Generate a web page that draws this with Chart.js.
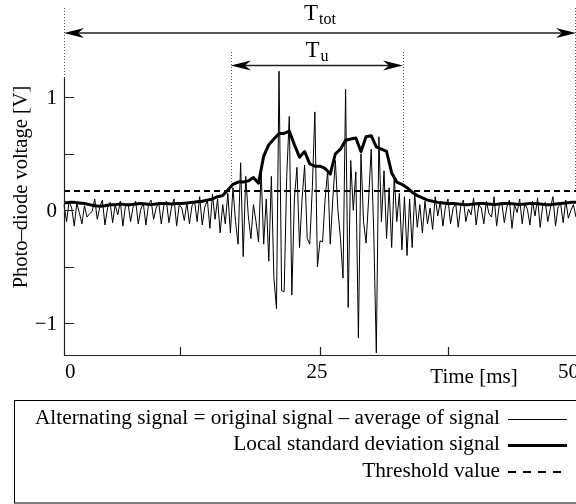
<!DOCTYPE html>
<html>
<head>
<meta charset="utf-8">
<script src="https://cdn.jsdelivr.net/npm/chart.js@4/dist/chart.umd.min.js"></script>
<style>
  html, body { margin: 0; padding: 0; background: #fff; overflow: hidden; }
</style>
</head>
<body>
<canvas id="signalChart" width="576" height="504"></canvas>
<script>
// alternating signal, one sample every 0.25 ms
const altStep = 0.25;
const altSignal = [
    0.05, -0.10, 0.08, 0.02, -0.14, 0.06, -0.02, -0.12, 0.04, -0.06,
    -0.03, -0.01, 0.10, -0.08, 0.03, 0.09, -0.13, 0.02, 0.07, -0.11,
    0.05, -0.04, 0.08, -0.14, 0.04, 0.06, -0.10, 0.03, 0.08, -0.12,
    0.01, 0.06, -0.13, 0.05, 0.09, -0.08, 0.02, 0.07, -0.12, 0.04,
    0.08, -0.11, 0.03, 0.10, -0.14, 0.05, 0.02, -0.09, 0.07, -0.12,
    0.04, 0.08, -0.10, 0.12, -0.13, 0.03, 0.09, -0.16, 0.14, -0.08,
    0.10, -0.20, 0.05, -0.12, 0.15, -0.20, 0.20, -0.10, -0.30, 0.42,
    -0.41, 0.30, -0.05, -0.25, 0.05, -0.10, -0.28, 0.35, -0.30, 0.10,
    -0.45, 0.30, -0.60, -0.87, 1.23, -0.71, -0.72, 0.30, 0.83, -0.75,
    0.10, 0.38, -0.33, 0.10, 0.40, -0.25, -0.30, 0.20, 0.87, -0.50,
    -0.27, -0.28, 0.10, 0.35, -0.30, 0.10, 0.44, 0.00, -0.25, -0.60,
    1.07, -0.86, 0.44, 0.00, 0.34, -1.13, 0.50, -0.10, -0.29, 0.10,
    0.54, -0.20, -1.26, 0.65, -0.10, 0.35, -0.25, 0.20, -0.33, 0.30,
    -0.10, 0.15, -0.35, 0.12, -0.40, 0.10, -0.33, 0.15, -0.15, 0.05,
    -0.20, 0.08, -0.12, 0.02, -0.17, 0.12, -0.05, 0.08, -0.14, 0.03,
    0.10, -0.12, 0.02, 0.06, -0.15, 0.04, 0.09, -0.10, 0.01, -0.04,
    0.11, -0.13, 0.05, 0.02, -0.12, 0.08, -0.03, -0.06, 0.12, -0.14,
    0.04, 0.07, -0.11, 0.03, 0.09, -0.16, 0.05, -0.02, 0.10, -0.12,
    0.06, 0.01, -0.13, 0.08, -0.05, 0.11, -0.15, 0.04, 0.07, -0.10,
    0.02, 0.12, -0.14, 0.03, 0.06, -0.11, 0.09, -0.07, 0.00, 0.05,
    -0.06
];

// local standard deviation, one sample every 0.5 ms
const stdStep = 0.5;
const stdSignal = [
    0.065, 0.07, 0.07, 0.065, 0.06, 0.05, 0.04, 0.035, 0.04, 0.05,
    0.05, 0.055, 0.05, 0.05, 0.055, 0.06, 0.055, 0.05, 0.055, 0.06,
    0.06, 0.055, 0.06, 0.06, 0.065, 0.07, 0.075, 0.08, 0.09, 0.10,
    0.12, 0.13, 0.18, 0.23, 0.25, 0.25, 0.26, 0.29, 0.24, 0.48,
    0.58, 0.63, 0.68, 0.68, 0.70, 0.58, 0.47, 0.52, 0.41, 0.39,
    0.39, 0.37, 0.32, 0.50, 0.54, 0.62, 0.63, 0.64, 0.52, 0.65,
    0.66, 0.56, 0.54, 0.52, 0.33, 0.25, 0.23, 0.20, 0.16, 0.13,
    0.11, 0.09, 0.08, 0.07, 0.065, 0.06, 0.06, 0.055, 0.05, 0.05,
    0.055, 0.06, 0.06, 0.055, 0.05, 0.055, 0.06, 0.06, 0.055, 0.05,
    0.055, 0.06, 0.06, 0.055, 0.05, 0.05, 0.055, 0.06, 0.065, 0.07,
    0.07
];

const thresholdValue = 0.17;

// time window markers (ms)
const totalSpan = [0, 50];
const usefulSpan = [16.3, 33.1];

const xTickMarks = [11.3, 25, 37.5];
const xTickLabels = [0, 25, 50];
const yTickMarks = [-1, -0.5, 0, 0.5, 1];
const yTickLabels = [-1, 0, 1];

const legendLabels = [
    "Alternating signal = original signal \u2013 average of signal",
    "Local standard deviation signal",
    "Threshold value",
];

const SERIF = '"Liberation Serif", "DejaVu Serif", serif';

function toPoints(values, step) {
    return values.map((v, i) => ({ x: i * step, y: v }));
}

function arrowHead(ctx, x, y, dir) {
    // dir = -1 points left, +1 points right
    const len = 20, half = 5;
    ctx.beginPath();
    ctx.moveTo(x, y);
    ctx.lineTo(x - dir * len, y - half);
    ctx.lineTo(x - dir * len * 0.7, y);
    ctx.lineTo(x - dir * len, y + half);
    ctx.closePath();
    ctx.fill();
}

function spanArrow(ctx, x1, x2, y) {
    ctx.beginPath();
    ctx.moveTo(x1 + 6, y);
    ctx.lineTo(x2 - 6, y);
    ctx.stroke();
    arrowHead(ctx, x1, y, -1);
    arrowHead(ctx, x2, y, 1);
}

function subText(ctx, main, sub, cx, baseline) {
    ctx.font = "23px " + SERIF;
    const wMain = ctx.measureText(main).width;
    ctx.font = "16px " + SERIF;
    const wSub = ctx.measureText(sub).width;
    const left = cx - (wMain + 1 + wSub) / 2;
    ctx.textAlign = "left";
    ctx.textBaseline = "alphabetic";
    ctx.font = "23px " + SERIF;
    ctx.fillText(main, left, baseline);
    ctx.font = "16px " + SERIF;
    ctx.fillText(sub, left + wMain + 1, baseline + 4);
}

const figureDecor = {
    id: "figureDecor",
    beforeDatasetsDraw(chart) {
        const { ctx, scales: { x, y } } = chart;
        ctx.save();
        ctx.strokeStyle = "#555";
        ctx.lineWidth = 1;
        ctx.setLineDash([1, 2]);
        const yThr = y.getPixelForValue(thresholdValue);
        totalSpan.forEach((t) => {
            const px = Math.min(Math.round(x.getPixelForValue(t)), 575) + 0.5;
            ctx.beginPath();
            ctx.moveTo(px, 8);
            ctx.lineTo(px, yThr);
            ctx.stroke();
        });
        usefulSpan.forEach((t) => {
            const px = Math.round(x.getPixelForValue(t)) + 0.5;
            ctx.beginPath();
            ctx.moveTo(px, 52);
            ctx.lineTo(px, y.getPixelForValue(0.24));
            ctx.stroke();
        });
        ctx.restore();
    },
    afterDatasetsDraw(chart) {
        const { ctx, chartArea: a, scales: { x, y } } = chart;
        ctx.save();
        ctx.strokeStyle = "#222";
        ctx.fillStyle = "#000";
        ctx.lineWidth = 1.2;

        // axes
        ctx.beginPath();
        ctx.moveTo(a.left + 0.5, a.top);
        ctx.lineTo(a.left + 0.5, a.bottom + 0.5);
        ctx.lineTo(a.right, a.bottom + 0.5);
        ctx.stroke();

        // inward tick marks
        ctx.beginPath();
        yTickMarks.forEach((v) => {
            const py = Math.round(y.getPixelForValue(v)) + 0.5;
            ctx.moveTo(a.left, py);
            ctx.lineTo(a.left + 10, py);
        });
        xTickMarks.forEach((v) => {
            const px = Math.round(x.getPixelForValue(v)) + 0.5;
            ctx.moveTo(px, a.bottom);
            ctx.lineTo(px, a.bottom - 8);
        });
        ctx.stroke();

        // tick labels
        ctx.font = "21px " + SERIF;
        ctx.textBaseline = "middle";
        ctx.textAlign = "right";
        yTickLabels.forEach((v) => {
            const txt = v < 0 ? "\u2212" + Math.abs(v) : String(v);
            ctx.fillText(txt, a.left - 7, y.getPixelForValue(v) + 1);
        });
        xTickLabels.forEach((v, i) => {
            const px = x.getPixelForValue(v);
            if (i === 0) {
                ctx.textAlign = "left";
                ctx.fillText(String(v), px + 1, a.bottom + 17);
            } else if (i === xTickLabels.length - 1) {
                ctx.textAlign = "left";
                ctx.fillText(String(v), px - 18, a.bottom + 17);
            } else {
                ctx.textAlign = "center";
                ctx.fillText(String(v), px - 3, a.bottom + 17);
            }
        });

        // axis titles
        ctx.font = "21px " + SERIF;
        ctx.textAlign = "center";
        ctx.fillText("Time [ms]", 474, a.bottom + 22);
        ctx.save();
        ctx.translate(22, 187);
        ctx.rotate(-Math.PI / 2);
        ctx.font = "20.5px " + SERIF;
        ctx.fillText("Photo\u2013diode voltage [V]", 0, 0);
        ctx.restore();

        // time window arrows
        ctx.lineWidth = 1.4;
        const xt0 = x.getPixelForValue(totalSpan[0]);
        const xt1 = x.getPixelForValue(totalSpan[1]);
        const xu0 = x.getPixelForValue(usefulSpan[0]);
        const xu1 = x.getPixelForValue(usefulSpan[1]);
        spanArrow(ctx, xt0, xt1, 33);
        spanArrow(ctx, xu0, xu1, 65.5);
        subText(ctx, "T", "tot", (xt0 + xt1) / 2, 20);
        subText(ctx, "T", "u", (xu0 + xu1) / 2, 57);

        // legend box
        ctx.lineWidth = 1;
        ctx.strokeStyle = "#000";
        ctx.setLineDash([]);
        ctx.strokeRect(14.5, 400.5, 620, 102.5);
        ctx.font = "21.3px " + SERIF;
        ctx.textAlign = "right";
        ctx.textBaseline = "middle";
        const rows = [418, 444, 471];
        const widths = [1, 3, 2];
        legendLabels.forEach((label, i) => {
            ctx.fillText(label, 500, rows[i]);
            ctx.beginPath();
            ctx.lineWidth = widths[i];
            ctx.setLineDash(i === 2 ? [8, 7] : []);
            const ly = rows[i] + (widths[i] % 2 ? 1.5 : 1);
            ctx.moveTo(508, ly);
            ctx.lineTo(567, ly);
            ctx.stroke();
        });
        ctx.restore();
    },
};

new Chart(document.getElementById("signalChart"), {
    type: "line",
    data: {
        datasets: [
            {
                label: legendLabels[2],
                data: [
                    { x: totalSpan[0], y: thresholdValue },
                    { x: totalSpan[1], y: thresholdValue },
                ],
                borderColor: "#000",
                borderWidth: 2,
                borderDash: [6, 4],
                pointRadius: 0,
            },
            {
                label: legendLabels[1],
                data: toPoints(stdSignal, stdStep),
                borderColor: "#000",
                borderWidth: 3,
                borderJoinStyle: "round",
                pointRadius: 0,
            },
            {
                label: legendLabels[0],
                data: toPoints(altSignal, altStep),
                borderColor: "#000",
                borderWidth: 1,
                pointRadius: 0,
                clip: false,
            },
        ],
    },
    options: {
        responsive: false,
        animation: false,
        devicePixelRatio: 1,
        layout: { padding: { left: 64, right: 0, top: 78, bottom: 149 } },
        scales: {
            x: { type: "linear", min: 0, max: 50, display: false },
            y: { min: -1.28, max: 1.17, display: false },
        },
        plugins: {
            legend: { display: false },
            tooltip: { enabled: false },
        },
        elements: { line: { tension: 0 } },
    },
    plugins: [figureDecor],
});
</script>
</body>
</html>
